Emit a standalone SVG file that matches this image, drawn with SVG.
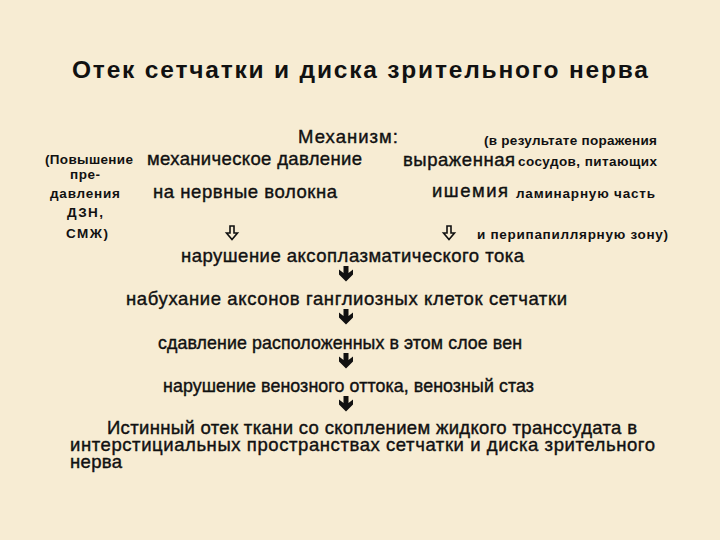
<svg xmlns="http://www.w3.org/2000/svg" width="720" height="540" viewBox="0 0 720 540">
<style>
text{font-family:"Liberation Sans",Arial,sans-serif;fill:#111;}
.t{font-size:24.5px;font-weight:bold;}
.b{font-size:18.5px;font-weight:normal;stroke:#111;stroke-width:0.4px;}
.m{font-size:17.8px;}
.s{font-size:13.5px;font-weight:bold;}
.a{fill:#111;}
.o{fill:none;stroke:#111;stroke-width:1.6;stroke-linejoin:miter;}
</style>
<rect width="720" height="540" fill="#F7ECD3"/>
<g id="title"><text class="t" x="72" y="78" textLength="576">Отек сетчатки и диска зрительного нерва</text></g>
<g id="mechanism"><text class="b" x="298" y="143" textLength="100">Механизм:</text></g>
<g id="left-note">
<text class="s" x="45" y="164" textLength="88">(Повышение</text>
<text class="s" x="70" y="179" textLength="30">пре-</text>
<text class="s" x="50" y="198" textLength="70">давления</text>
<text class="s" x="67" y="217" textLength="36">ДЗН,</text>
<text class="s" x="66" y="238" textLength="42">СМЖ)</text>
</g>
<g id="mech-pressure">
<text class="b" x="147" y="165" textLength="215">механическое давление</text>
<text class="b" x="153" y="198" textLength="184">на нервные волокна</text>
</g>
<g id="ischemia">
<text class="b" x="403" y="166" textLength="112">выраженная</text>
<text class="b" x="432" y="197" textLength="76">ишемия</text>
</g>
<g id="right-note">
<text class="s" x="484" y="145" textLength="173">(в результате поражения</text>
<text class="s" x="518" y="166" textLength="139">сосудов, питающих</text>
<text class="s" x="516" y="198" textLength="139">ламинарную часть</text>
<text class="s" x="477" y="239" textLength="191">и перипапиллярную  зону)</text>
</g>
<g id="step1"><text class="b" x="181" y="262" textLength="343">нарушение аксоплазматического тока</text></g>
<g id="step2"><text class="b" x="126" y="305" textLength="441">набухание аксонов ганглиозных клеток сетчатки</text></g>
<g id="step3"><text class="b m" x="158" y="349" textLength="364">сдавление расположенных в этом слое вен</text></g>
<g id="step4"><text class="b m" x="163" y="392" textLength="371">нарушение венозного оттока, венозный стаз</text></g>
<g id="result">
<text class="b" x="107" y="434" textLength="530">Истинный отек ткани со скоплением жидкого транссудата в</text>
<text class="b" x="70" y="451" textLength="585">интерстициальных пространствах сетчатки и диска зрительного</text>
<text class="b" x="70" y="468" textLength="52">нерва</text>
</g>
<g id="connectors">
<path class="o" d="M230,226 h4 v7 h3.5 l-5.5,6.5 l-5.5,-6.5 h3.5 z"/>
<path class="o" d="M447,226 h4 v7 h3.5 l-5.5,6.5 l-5.5,-6.5 h3.5 z"/>
<path class="a" d="M343.5,266 h5 v7 l4.5,-3.5 v5 l-7,7 l-7,-7 v-5 l4.5,3.5 z"/>
<path class="a" d="M343.5,309 h5 v7 l4.5,-3.5 v5 l-7,7 l-7,-7 v-5 l4.5,3.5 z"/>
<path class="a" d="M343.5,353 h5 v7 l4.5,-3.5 v5 l-7,7 l-7,-7 v-5 l4.5,3.5 z"/>
<path class="a" d="M343.5,396 h5 v7 l4.5,-3.5 v5 l-7,7 l-7,-7 v-5 l4.5,3.5 z"/>
</g>
</svg>
